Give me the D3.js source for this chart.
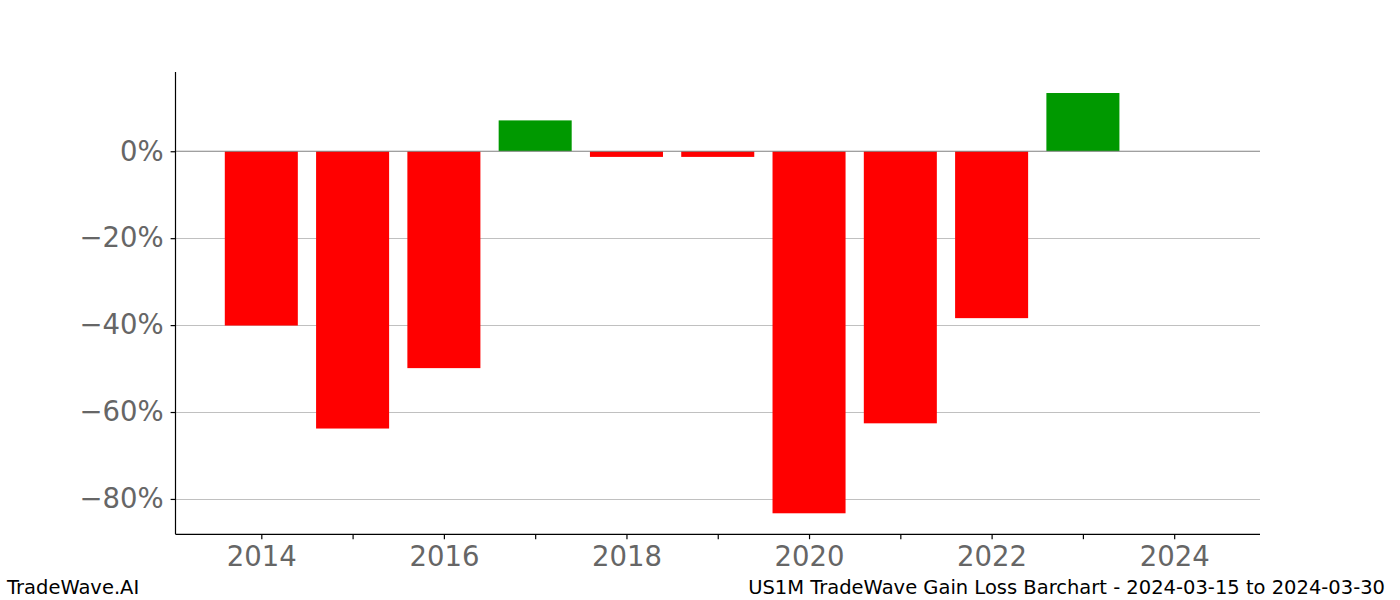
<!DOCTYPE html>
<html>
<head>
<meta charset="utf-8">
<script src="https://cdn.jsdelivr.net/npm/d3@7"></script>
<style>
html,body{margin:0;padding:0;background:#fff;}
svg{display:block;font-family:"DejaVu Sans",sans-serif;}
</style>
</head>
<body>
<svg id="chart" width="1400" height="600"></svg>
<script>
const years = [2014, 2015, 2016, 2017, 2018, 2019, 2020, 2021, 2022, 2023, 2024];
const gains = [-40.1, -63.8, -49.9, 7.1, -1.3, -1.3, -83.3, -62.6, -38.4, 13.4, 0];
const yTicks = [0, -20, -40, -60, -80];
const xTickYears = [2014, 2015, 2016, 2017, 2018, 2019, 2020, 2021, 2022, 2023, 2024];
const xLabelYears = [2014, 2016, 2018, 2020, 2022, 2024];
const footerLeft = "TradeWave.AI";
const footerRight = "US1M TradeWave Gain Loss Barchart - 2024-03-15 to 2024-03-30";

const svg = d3.select("#chart");
const L = 175.5, R = 1260, T = 72, B = 534.3;
const barW = 0.8;
const xMin = years[0] - barW / 2, xMax = years[years.length - 1] + barW / 2;
const xPad = (xMax - xMin) * 0.05;
const x = d3.scaleLinear().domain([xMin - xPad, xMax + xPad]).range([L, R]);
const yMax = d3.max(gains), yMin = d3.min(gains);
const yPad = (yMax - yMin) * 0.05;
const y = d3.scaleLinear().domain([yMin - yPad, yMax + yPad]).range([B, T]);

// grid
svg.append("g").selectAll("line").data(yTicks.filter(d => d !== 0)).join("line")
  .attr("x1", L).attr("x2", R)
  .attr("y1", d => Math.round(y(d)) + 0.5).attr("y2", d => Math.round(y(d)) + 0.5)
  .attr("stroke", "#c0c0c0").attr("stroke-width", 1);

// bars
svg.append("g").selectAll("rect").data(years.map((yr, i) => ({yr, v: gains[i]})).filter(d => d.v !== 0)).join("rect")
  .attr("x", d => x(d.yr - barW / 2))
  .attr("width", d => x(d.yr + barW / 2) - x(d.yr - barW / 2))
  .attr("y", d => y(Math.max(0, d.v)))
  .attr("height", d => Math.abs(y(d.v) - y(0)))
  .attr("fill", d => d.v >= 0 ? "#009900" : "#ff0000");

// zero line
svg.append("line").attr("x1", L).attr("x2", R).attr("y1", y(0)).attr("y2", y(0))
  .attr("stroke", "#808080").attr("stroke-width", 1.2);

// y axis
const yAxis = d3.axisLeft(y).tickValues(yTicks).tickSize(4.9).tickPadding(7)
  .tickFormat(d => (d < 0 ? "\u2212" + Math.abs(d) : d) + "%");
const gy = svg.append("g").attr("transform", `translate(${L},0)`).call(yAxis);
gy.select(".domain").attr("d", `M0,${T}V${B}`).attr("stroke", "#000").attr("stroke-width", 1.2);
gy.selectAll(".tick line").attr("stroke", "#000").attr("stroke-width", 1.2);
gy.selectAll(".tick text").attr("fill", "#666").attr("font-size", "27.5px")
  .attr("font-family", "DejaVu Sans");

// x axis
const xAxis = d3.axisBottom(x).tickValues(xTickYears).tickSize(4.9).tickPadding(7)
  .tickFormat(d => xLabelYears.includes(d) ? d : "");
const gx = svg.append("g").attr("transform", `translate(0,${B})`).call(xAxis);
gx.select(".domain").attr("d", `M${L},0H${R}`).attr("stroke", "#000").attr("stroke-width", 1.2);
gx.selectAll(".tick line").attr("stroke", "#000").attr("stroke-width", 1.2);
gx.selectAll(".tick text").attr("fill", "#666").attr("font-size", "27.5px")
  .attr("font-family", "DejaVu Sans");

// footer
svg.append("text").attr("x", 7).attr("y", 594).attr("font-size", "19.5px").attr("fill", "#000")
  .text(footerLeft);
svg.append("text").attr("x", 1385).attr("y", 594).attr("text-anchor", "end").attr("font-size", "19.5px")
  .attr("fill", "#000").text(footerRight);
</script>
</body>
</html>
